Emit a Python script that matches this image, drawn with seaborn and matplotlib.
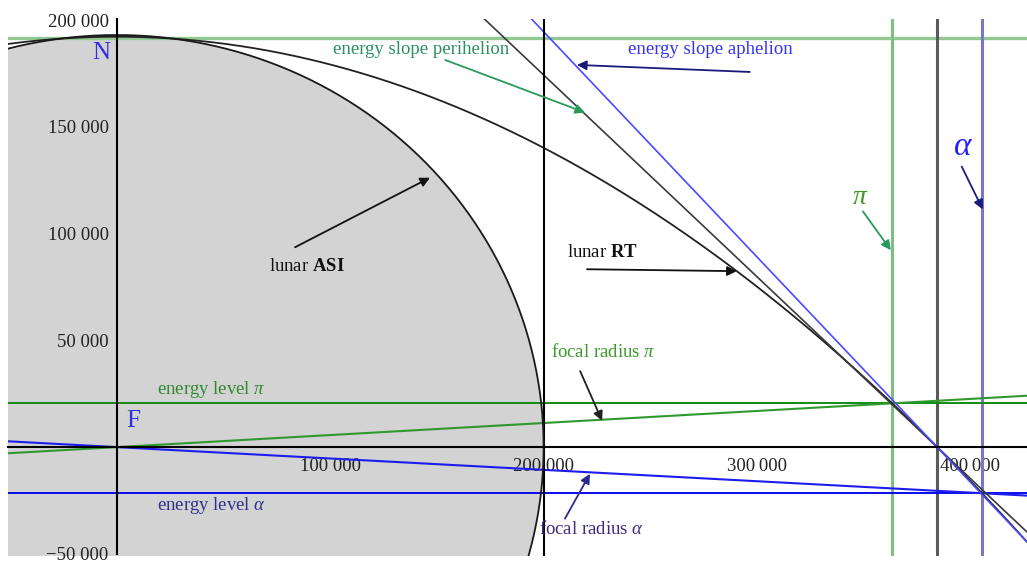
import numpy as np
import matplotlib
matplotlib.use("Agg")
import matplotlib.pyplot as plt
from matplotlib.ticker import FixedLocator, MultipleLocator
import seaborn as sns

# Lunar orbit elements (km)
semi_major = 384400
eccentricity = 0.0549
perigee = 363300
apogee = 405500

# Energy levels at perigee and apogee, and the upper reference level through N
energy_pi = 20500
energy_alpha = -21600
top_level = 191500

# ASI region (semi-axes) and the reference vertical
asi_axes = [200000, 193000]
reference_x = 200000

# Slopes of the two energy lines through (semi_major, 0)
slope_perihelion = -(1 - eccentricity)
slope_aphelion = -(1 + eccentricity)

x_ticks = [100000, 200000, 300000, 400000]
x_tick_labels = ["100 000", "200 000", "300\u2009000", "400\u2009000"]
y_ticks = [-50000, 50000, 100000, 150000, 200000]
y_tick_labels = ["\u221250 000", "50 000", "100 000", "150 000", "200 000"]

x_lim = (-51000, 426500)
y_lim = (-51000, 200500)

sns.set_style("white")
plt.rcParams["font.family"] = ["Liberation Serif", "DejaVu Serif"]
plt.rcParams["mathtext.fontset"] = "custom"
plt.rcParams["mathtext.rm"] = "Liberation Serif"
plt.rcParams["mathtext.it"] = "Liberation Serif:italic"
plt.rcParams["mathtext.bf"] = "Liberation Serif:bold"

fig = plt.figure(figsize=(10.27, 5.63), dpi=100)
ax = fig.add_axes([8 / 1027, 7 / 563, 1019 / 1027, 537 / 563])
ax.set_xlim(*x_lim)
ax.set_ylim(*y_lim)

# ASI region: filled ellipse around the focus
theta = np.linspace(0, 2 * np.pi, 721)
asi_x = asi_axes[0] * np.cos(theta)
asi_y = asi_axes[1] * np.sin(theta)
ax.fill(asi_x, asi_y, color="#d3d3d3", zorder=0.5, lw=0)
sns.lineplot(x=asi_x, y=asi_y, sort=False, estimator=None, color="#1a1a1a", lw=1.3, ax=ax, zorder=3)

# RT curve
rt_x = np.linspace(x_lim[0], x_lim[1], 600)
rt_y = (semi_major ** 2 - rt_x ** 2) / (2 * semi_major)
sns.lineplot(x=rt_x, y=rt_y, sort=False, estimator=None, color="#222222", lw=1.3, ax=ax, zorder=2.5)

span = np.array(x_lim, dtype=float)

# Energy slope lines
sns.lineplot(x=span, y=slope_perihelion * (span - semi_major), sort=False, estimator=None,
             color="#3a3a3a", lw=1.2, ax=ax, zorder=2.6)
sns.lineplot(x=span, y=slope_aphelion * (span - semi_major), sort=False, estimator=None,
             color="#4a4aff", lw=1.2, ax=ax, zorder=2.7)

# Focal radii from F
sns.lineplot(x=span, y=energy_pi / perigee * span, sort=False, estimator=None,
             color="#2e9a2e", lw=1.5, ax=ax, zorder=2.4)
sns.lineplot(x=span, y=energy_alpha / apogee * span, sort=False, estimator=None,
             color="#1c1cee", lw=1.5, ax=ax, zorder=2.4)

# Energy levels
ax.axhline(energy_pi, color="#138a13", lw=1.4, zorder=2.3)
ax.axhline(energy_alpha, color="#0a0aee", lw=1.4, zorder=2.3)
ax.axhline(top_level, color="#92c992", lw=2.4, zorder=2.2)

# Reference verticals
ax.axvline(reference_x, color="black", lw=1.5, zorder=2.8)
ax.axvline(perigee, color="#7fbf7f", lw=2.2, zorder=2.2)
ax.axvline(semi_major, color="#5a5a5a", lw=2.2, zorder=2.2)
ax.axvline(apogee, color="#7878c4", lw=2.2, zorder=2.2)

# Axes through the origin
for side in ("top", "right"):
    ax.spines[side].set_visible(False)
ax.spines["left"].set_position(("data", 0))
ax.spines["bottom"].set_position(("data", 0))
ax.spines["left"].set_bounds(-50000, y_lim[1])
for side in ("left", "bottom"):
    ax.spines[side].set_linewidth(1.5)
    ax.spines[side].set_color("black")
    ax.spines[side].set_zorder(4)

ax.xaxis.set_major_locator(FixedLocator(x_ticks))
ax.set_xticklabels(x_tick_labels)
ax.yaxis.set_major_locator(FixedLocator(y_ticks))
ax.set_yticklabels(y_tick_labels)
ax.xaxis.set_minor_locator(MultipleLocator(20000))
ax.yaxis.set_minor_locator(MultipleLocator(10000))
ax.tick_params(which="both", direction="in", color="black", width=1.3, labelsize=13.5,
               labelcolor="#222222")
ax.tick_params(which="major", length=7)
ax.tick_params(which="minor", length=4)
ax.tick_params(axis="x", which="major", pad=8)
ax.tick_params(axis="y", which="major", pad=6)
ax.set_xlabel("")
ax.set_ylabel("")

def arrow(tail, head, color):
    ax.annotate("", xy=head, xytext=tail, zorder=5,
                arrowprops=dict(arrowstyle="-|>", color=color, lw=1.3,
                                mutation_scale=14, shrinkA=0, shrinkB=0))

def label(pos, text, color, size=13.5, **kw):
    ax.text(pos[0], pos[1], text, color=color, fontsize=size, ha="center", va="center",
            zorder=6, **kw)

label((142600, 186000), "energy slope perihelion", "#2a9060")
arrow((153900, 181300), (219400, 156700), "#2a9a5a")

label((277900, 186000), "energy slope aphelion", "#3434ee")
arrow((296600, 175700), (215600, 179000), "#1a1a7a")

label((89150, 84700), r"lunar $\mathbf{ASI}$", "#111111")
arrow((83500, 93600), (146750, 126200), "#111111")

label((227400, 91200), r"lunar $\mathbf{RT}$", "#111111")
arrow((220300, 83300), (290500, 82400), "#111111")

label((348200, 116900), r"$\pi$", "#3c9c1c", size=20)
arrow((349600, 110400), (362700, 92200), "#2a9a5a")

label((396400, 140700), r"$\alpha$", "#2020ff", size=24)
arrow((395900, 131400), (405800, 111300), "#1a1a80")

label((44200, 26800), r"energy level $\pi$", "#2f8a2f")
label((44200, -27400), r"energy level $\alpha$", "#30308a")

label((227800, 44500), r"focal radius $\pi$", "#3a9a2a")
arrow((217100, 35600), (227400, 12300), "#222222")

label((222200, -38200), r"focal radius $\alpha$", "#402a80")
arrow((210000, -33500), (221700, -12500), "#2a2a90")

label((-7300, 184600), "N", "#3030e0", size=18)
label((7650, 12300), "F", "#3030e0", size=18)

fig.savefig("out.png", dpi=100)
